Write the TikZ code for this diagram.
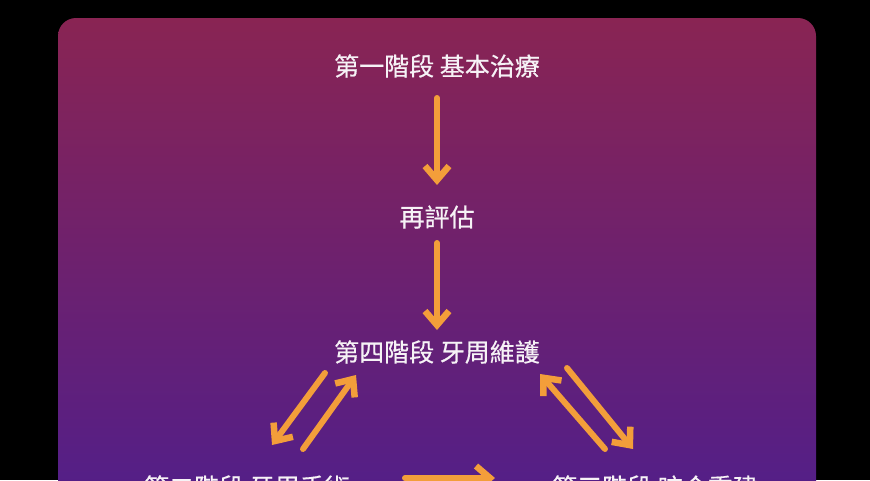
\documentclass[tikz,border=0pt]{standalone}
\usepackage{fontspec}
\newfontfamily\cjk[FakeBold=0.5]{Noto Sans CJK TC}
\usetikzlibrary{arrows.meta}
\definecolor{bgtop}{RGB}{137,36,83}
\definecolor{bgbot}{RGB}{80,30,139}
\definecolor{arrorange}{RGB}{243,158,58}
\definecolor{txt}{RGB}{246,242,246}
\tikzset{
  lbl/.style={text=txt, font=\cjk\fontsize{25}{30}\selectfont, inner sep=0pt, anchor=center},
  arr/.style={draw=arrorange, line width=6pt, line cap=round,
    -{Straight Barb[length=14pt,width=24pt,line width=6.5pt]}}
}
\begin{document}
\begin{tikzpicture}[x=1pt,y=-1pt]
\useasboundingbox (0,0) rectangle (870,480);
\clip (0,0) rectangle (870,480);
\fill[black] (0,0) rectangle (870,480);
\shade[top color=bgtop, bottom color=bgbot, rounded corners=18pt] (58,18) rectangle (816,520);

\node[lbl] (p1) at (437,66) {第一階段 基本治療};
\node[lbl] (re) at (437,217) {再評估};
\node[lbl] (p4) at (437,352) {第四階段 牙周維護};
\node[lbl] (p2) at (247,487) {第二階段 牙周手術};
\node[lbl] (p3) at (655,487) {第三階段 咬合重建};

\coordinate (a1s) at (437,98);  \coordinate (a1e) at (437,185);
\coordinate (a2s) at (437,243); \coordinate (a2e) at (437,330);
\coordinate (las) at (325,373); \coordinate (lae) at (272,445);
\coordinate (lbs) at (303,449); \coordinate (lbe) at (356,375);
\coordinate (rcs) at (605,449); \coordinate (rce) at (540,374);
\coordinate (rds) at (567,368); \coordinate (rde) at (633,449);
\coordinate (bs) at (405,478);  \coordinate (be) at (495,478);

\draw[arr] (a1s) -- (a1e);
\draw[arr] (a2s) -- (a2e);
\draw[arr] (las) -- (lae);
\draw[arr] (lbs) -- (lbe);
\draw[arr] (rcs) -- (rce);
\draw[arr] (rds) -- (rde);
\draw[arr] (bs) -- (be);
\end{tikzpicture}
\end{document}
